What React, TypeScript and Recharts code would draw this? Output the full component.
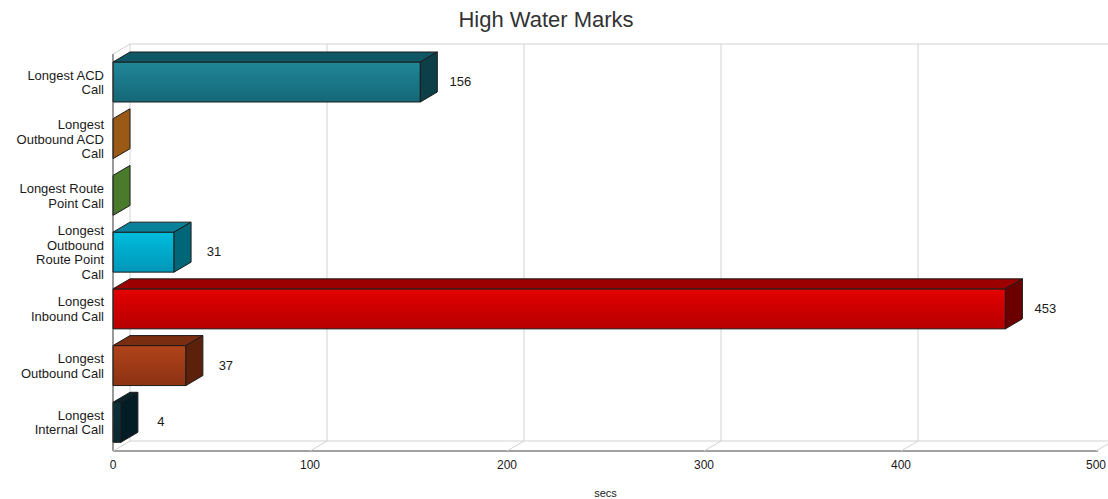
import React from 'react';
import { BarChart, Bar, XAxis, YAxis, CartesianGrid, LabelList } from 'recharts';

const categories = [
  'Longest ACD\nCall',
  'Longest\nOutbound ACD\nCall',
  'Longest Route\nPoint Call',
  'Longest\nOutbound\nRoute Point\nCall',
  'Longest\nInbound Call',
  'Longest\nOutbound Call',
  'Longest\nInternal Call',
];
const seconds = [156, 0, 0, 31, 453, 37, 4];
const xTicks = [0, 100, 200, 300, 400, 500];

// front (top of gradient), front (bottom), top face, side face
const palette = [
  ['#1f8797', '#156777', '#0f5764', '#0c3f47'],
  ['#c0701e', '#a05c16', '#8a4e12', '#9a5914'],
  ['#5a8c36', '#4a782a', '#3e6622', '#4a7a2c'],
  ['#00bddc', '#0096b8', '#0a819a', '#006678'],
  ['#e40000', '#b60000', '#9c0000', '#6c0000'],
  ['#b0431b', '#8c3212', '#7a2d10', '#5c210b'],
  ['#0d323c', '#0a2830', '#08242c', '#021d25'],
];

const data = categories.map((name, i) => ({ name, value: seconds[i] }));

const W = 1108;
const H = 499;
const TOP = 54;
const LEFT = 113;
const RIGHT = 10;
const AXIS_H = 48;
const PLOT_W = W - LEFT - RIGHT;
const PLOT_H = H - TOP - AXIS_H;
// offset of the back wall relative to the front plane
const DX = 17;
const DY = 10;
const FONT = '"Liberation Sans", Arial, sans-serif';
const GRID = '#d2d2d2';

// the axis scale is either a plain d3 function or an object exposing map()
function applyScale(scale: any, v: number): number | undefined {
  if (typeof scale === 'function') return scale(v);
  if (scale && typeof scale.map === 'function') return scale.map(v);
  return undefined;
}

function backWallLines({ xAxis }: any) {
  const pts = xTicks
    .map((t) => applyScale(xAxis?.scale, t))
    .filter((p): p is number => typeof p === 'number' && isFinite(p));
  return pts.map((p) => p + DX);
}

// top edge of the back wall and the back edge of the floor
function wallEdges({ offset }: any) {
  return [offset.top - DY, offset.top + offset.height - DY];
}

function Box3D(props: any) {
  const { x, y, width, height, index } = props;
  const [c1, c2, topC, sideC] = palette[index % palette.length];
  const id = `box-front-${index}`;
  const r = x + width;
  return (
    <g stroke="#1c1c1c" strokeWidth={1} strokeLinejoin="round">
      <defs>
        <linearGradient id={id} x1="0" y1="0" x2="0" y2="1">
          <stop offset="0%" stopColor={c1} />
          <stop offset="100%" stopColor={c2} />
        </linearGradient>
      </defs>
      {width > 0 && <rect x={x} y={y} width={width} height={height} fill={`url(#${id})`} />}
      {width > 0 && (
        <polygon
          points={`${x},${y} ${x + DX},${y - DY} ${r + DX},${y - DY} ${r},${y}`}
          fill={topC}
        />
      )}
      <polygon
        points={`${r},${y} ${r + DX},${y - DY} ${r + DX},${y + height - DY} ${r},${y + height}`}
        fill={sideC}
      />
    </g>
  );
}

function ValueLabel(props: any) {
  const { x, y, width, height, value } = props;
  if (!value) return null;
  return (
    <text
      x={x + width + 40}
      y={y + height / 2 + 4}
      textAnchor="middle"
      fontSize={13}
      fontFamily={FONT}
      fill="#1a1a1a"
    >
      {value}
    </text>
  );
}

function CategoryTick(props: any) {
  const { x, y, payload } = props;
  const lines = String(payload.value).split('\n');
  const lh = 14.5;
  const start = -((lines.length - 1) / 2) * lh + 4.5;
  return (
    <text x={x} y={y} textAnchor="end" fontSize={13} fontFamily={FONT} fill="#1a1a1a">
      {lines.map((l, i) => (
        <tspan key={i} x={x} dy={i === 0 ? start : lh}>
          {l}
        </tspan>
      ))}
    </text>
  );
}

function FloorTick(props: any) {
  const { x, y, payload, index } = props;
  const floorY = TOP + PLOT_H;
  return (
    <g>
      <line x1={x} y1={floorY} x2={x + DX} y2={floorY - DY} stroke={GRID} />
      {index === 0 && <line x1={x} y1={TOP} x2={x + DX} y2={TOP - DY} stroke={GRID} />}
      <text x={x} y={y + 10} textAnchor="middle" fontSize={12} fontFamily={FONT} fill="#1a1a1a">
        {payload.value}
      </text>
    </g>
  );
}

export default function App() {
  return (
    <div style={{ position: 'absolute', left: 0, top: 0, width: W, height: H, background: '#fff' }}>
      <div
        style={{
          position: 'absolute',
          top: 7,
          left: 0,
          width: 1092,
          textAlign: 'center',
          fontFamily: FONT,
          fontSize: 22,
          lineHeight: '26px',
          color: '#333',
        }}
      >
        High Water Marks
      </div>
      <BarChart
        width={W}
        height={H}
        data={data}
        layout="vertical"
        margin={{ top: TOP, right: RIGHT, bottom: 0, left: 0 }}
      >
        <CartesianGrid
          stroke={GRID}
          x={LEFT + DX}
          y={TOP - DY}
          width={PLOT_W}
          height={PLOT_H}
          verticalCoordinatesGenerator={backWallLines}
          horizontalCoordinatesGenerator={wallEdges}
        />
        <XAxis
          type="number"
          domain={[0, 500]}
          ticks={xTicks}
          height={AXIS_H}
          tickSize={0}
          tickMargin={8}
          tickLine={false}
          axisLine={{ stroke: '#444' }}
          tick={<FloorTick />}
          label={{ value: 'secs', position: 'insideBottom', offset: 2, fontSize: 11, fontFamily: FONT, fill: '#1a1a1a' }}
        />
        <YAxis
          type="category"
          dataKey="name"
          width={LEFT}
          interval={0}
          tickSize={0}
          tickMargin={9}
          tickLine={false}
          axisLine={{ stroke: '#333' }}
          tick={<CategoryTick />}
        />
        <Bar dataKey="value" barSize={40} shape={Box3D} isAnimationActive={false}>
          <LabelList dataKey="value" content={ValueLabel} />
        </Bar>
      </BarChart>
    </div>
  );
}
